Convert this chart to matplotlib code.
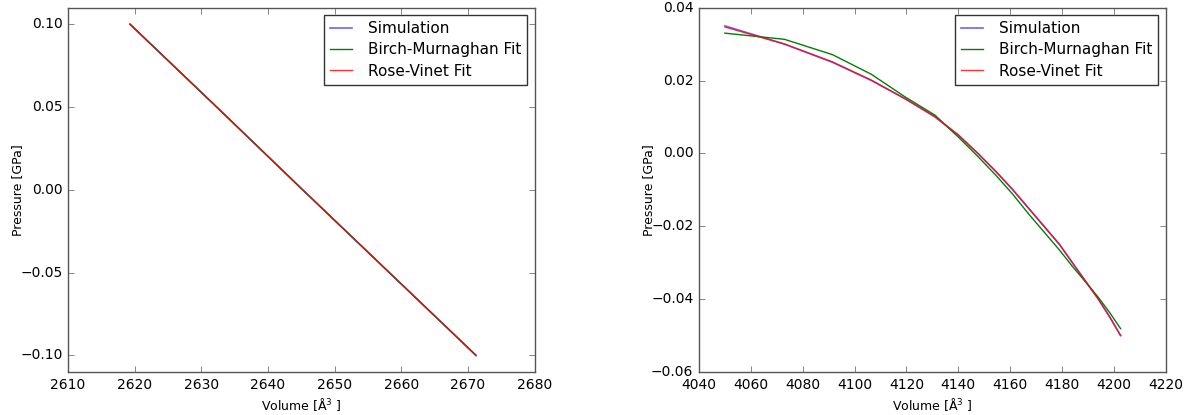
import matplotlib
matplotlib.use("Agg")
import matplotlib.pyplot as plt

# left panel data
vol_a = [2619.3, 2632.3, 2645.2, 2658.2, 2671.2]
sim_a = [0.10, 0.05, 0.00, -0.05, -0.10]
bm_a = [0.10, 0.05, 0.00, -0.05, -0.10]
rv_a = [0.10, 0.05, 0.00, -0.05, -0.10]

# right panel data
vol_b = [4050.0, 4073.0, 4091.5, 4106.5, 4119.5, 4131.0, 4140.0, 4147.5, 4154.5,
         4161.0, 4167.0, 4173.0, 4179.0, 4184.0, 4189.0, 4194.0, 4198.5, 4202.6]
sim_b = [0.035, 0.030, 0.025, 0.020, 0.015, 0.010, 0.005, 0.000, -0.005,
         -0.010, -0.015, -0.020, -0.025, -0.030, -0.035, -0.040, -0.045, -0.050]
bm_b = [0.0330, 0.0313, 0.0271, 0.0217, 0.0155, 0.0105, 0.0045, -0.0008, -0.0060,
        -0.0112, -0.0165, -0.0215, -0.0265, -0.0310, -0.0352, -0.0395, -0.0438, -0.0481]
rv_b = [0.0347, 0.0300, 0.0251, 0.0201, 0.0150, 0.0101, 0.0051, 0.0001, -0.0049,
        -0.0099, -0.0149, -0.0199, -0.0249, -0.0300, -0.0350, -0.0400, -0.0450, -0.0500]

plt.style.use("classic")
plt.rcParams["mathtext.fontset"] = "dejavusans"
plt.rcParams["font.family"] = "DejaVu Sans"
plt.rcParams["axes.unicode_minus"] = True

fig = plt.figure(figsize=(12.03, 4.15), dpi=100, facecolor="white")
ax1 = fig.add_axes([0.0565, 0.1036, 0.388, 0.878])
ax2 = fig.add_axes([0.581, 0.1036, 0.388, 0.878])


def draw(ax, vol, sim, bm, rv, xlim, ylim, yticks):
    ax.plot(vol, sim, color="b", alpha=0.6, lw=1.2, label="Simulation")
    ax.plot(vol, bm, color="g", lw=1.0, label="Birch-Murnaghan Fit")
    ax.plot(vol, rv, color="r", alpha=0.8, lw=1.0, label="Rose-Vinet Fit")
    ax.set_xlim(*xlim)
    ax.set_ylim(*ylim)
    ax.set_yticks(yticks)
    ax.ticklabel_format(useOffset=False)
    ax.tick_params(labelsize=10, color="#555555")
    for s in ax.spines.values():
        s.set_color("#555555")
    ax.set_xlabel(r"Volume [$\mathrm{\AA}^3$ ]", fontsize=9, labelpad=3)
    ax.set_ylabel("Pressure [GPa]", fontsize=9, labelpad=-3)
    leg = ax.legend(loc="upper right", fontsize=11, numpoints=1,
                    handlelength=1.45, handletextpad=1.0, labelspacing=0.4,
                    borderaxespad=0.5)
    leg.get_frame().set_edgecolor("#333333")


draw(ax1, vol_a, sim_a, bm_a, rv_a, (2610, 2680), (-0.11, 0.11),
     [-0.10, -0.05, 0.00, 0.05, 0.10])
draw(ax2, vol_b, sim_b, bm_b, rv_b, (4040, 4220), (-0.06, 0.04),
     [-0.06, -0.04, -0.02, 0.00, 0.02, 0.04])

fig.savefig("out.png", dpi=100, facecolor="white")
